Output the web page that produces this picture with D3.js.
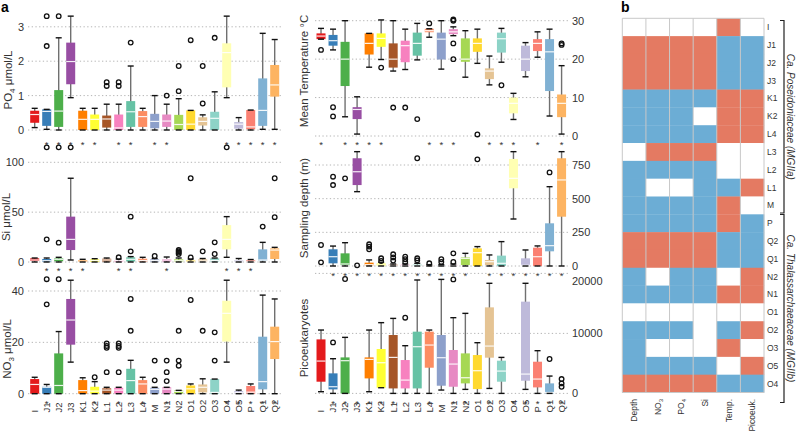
<!DOCTYPE html>
<html><head><meta charset="utf-8">
<script src="https://cdn.jsdelivr.net/npm/d3@7"></script>
<style>body{margin:0;background:#fff}text{font-family:"Liberation Sans",Arial,sans-serif}</style>
</head><body><svg id="c" width="796" height="431"></svg>
<script>
const categories = ["I","J1","J2","J3","K1","K2","L1","L2","L3","L4","M","N1","N2","O1","O2","O3","O4","O5","P","Q1","Q2"];
const colors = ["#e41a1c","#377eb8","#4daf4a","#984ea3","#ff7f00","#ffff33","#a65628","#f781bf",
  "#66c2a5","#fc8d62","#8da0cb","#e78ac3","#a6d854","#ffd92f","#e5c494",
  "#8dd3c7","#ffffb3","#bebada","#fb8072","#80b1d3","#fdb462"];

// box stats: [whiskerLow, q1, median, q3, whiskerHigh]
const po4Stats = [[0.07,0.21,0.45,0.56,0.63],[0.02,0.12,0.54,0.6,0.6],[0,0.09,0.55,1.16,2.68],[0.94,1.33,1.99,2.54,3.31],
  [0,0,0.31,0.56,0.63],[0,0,0.31,0.45,0.63],[0,0.07,0.32,0.42,0.75],[0,0,0.06,0.45,0.75],[0,0.09,0.53,0.84,1.86],
  [0,0.09,0.39,0.55,0.63],[0,0.05,0.25,0.47,1.0],[0,0.09,0.26,0.45,0.75],[0,0,0.16,0.44,0.91],[0,0,0.17,0.57,0.57],
  [0,0.13,0.25,0.37,0.44],[0,0,0.34,0.53,1.11],[0.94,1.24,2.25,2.52,3.31],[0,0.04,0.17,0.23,0.36],[0,0.02,0.09,0.58,0.58],
  [0.02,0.12,0.57,1.5,2.81],[0.02,0.97,1.31,1.89,2.63]];
const po4Outliers = [[],[2.44,3.31],[3.31],[],[],[],[1.28,1.39],[1.28,1.39],[2.54],[],[],[1.0],[1.13,1.86],[2.61],[0.77,1.86],[2.68],[],[],[],[],[]];
const po4Sig = ["J1","J2","J3","K1","K2","L2","L3","M","N1","O4","O5","P","Q1","Q2"];

const siStats = [[0,1,2,3.7,4],[0,0.3,1.3,3,4],[0,0.7,2.7,3.7,4.7],[2,12,22.7,45.5,84],[0,0.3,1,2,2.7],[0,0.3,1.5,2.7,3.3],
  [0,0.5,2,3.3,4],[0,0.5,1.5,2,3],[0,0.5,2.7,4.7,5.4],[0,0.5,1.5,3.3,4.7],[0,0.5,1.5,2.7,3.5],[0,0.5,2,3,5],[0,0.5,1.3,2.7,4],
  [0,0.3,1,2,3],[0,0.3,1,2.7,3.5],[0,0.5,1.5,3.7,4],[4.7,12.7,22.7,37,45.5],[0,0.3,1,2,3.5],[0,0.3,0.8,2,2.5],
  [0,1.3,2,12.7,19.7],[0,3,12,13.7,14.7]];
const siOutliers = [[],[22.7,115],[19.4,115],[115],[],[],[],[4.7],[10.7,45.5],[],[6],[],[8,9.4,10.7,12],[4.5,84],[10.7],[8,19.7],[115],[],[],[35.5],[45,84]];
const siSig = ["J1","J2","J3","K1","L2","L3","N1","O4","O5","P"];

const no3Stats = [[0,0,3.6,5.7,6.4],[0,0,2.5,2.7,3.6],[0,0,3.2,15.7,24.2],[12.3,19.1,28.7,36.9,44.2],[0,0,1.2,5.3,6.2],
  [0,0,1.0,2.7,4.7],[0,0,1.4,2.1,2.5],[0,0,1.4,2.3,2.5],[0,0,5.1,9.7,13],[0,0,3.8,5.3,6.4],[0,0,1.7,2.3,2.5],[0,0,1.8,2.5,2.5],
  [0,0,0.9,1.3,1.3],[0,0,1.9,3.2,3.8],[0,0.5,2.5,3.6,5.8],[0,0,0.5,5.7,5.7],[12.3,20.3,31.3,36.2,44.2],[0,0,0.4,1.0,1.4],
  [0,0,0.6,3.0,3.8],[0,1.7,4.7,22.2,38.4],[0,13.5,20.3,26.1,36.9]];
const no3Outliers = [[],[34.8,44.6],[44.6],[],[],[6.4],[8.4,17.9,18.6,19.6],[8.4,17.9,18.6,19.6],[24.5,36.9],[],[5.2,12.9],
  [4.9,8.4,12.9],[10.9,12.9,24.5],[36.5],[24.5],[12.9,23.9],[],[],[],[],[]];
const no3Sig = ["J1","K2","L2","L4","N1","O4","O5","P","Q1","Q2"];

const tempStats = [[25.2,25.2,26,26.7,28],[22.4,23.5,24.8,26.3,27.8],[5,13,20,24.5,30],[0.5,4.4,6.9,7.5,10.2],[17.9,21.2,24.1,26.7,26.7],
  [19.9,23.2,25.4,26.7,30.2],[16.9,17.8,20,24.1,30],[17.3,19.2,23.5,24.8,27.8],[19.8,20.9,24.1,26.9,29.3],[25.7,27,27.4,27.9,27.9],
  [17.4,19.9,25.2,26.9,30],[26.1,26.5,27.1,27.8,28.4],[15.3,19.3,20,25.4,27.4],[18.9,21.9,24.1,25.4,27.8],[13.3,14.8,16.9,17.6,20.8],
  [19.2,21.7,25.3,26.9,28],[4.3,5.9,8.5,10,11.1],[15.4,16.9,20,23.5,24.3],[20.5,22.1,24.1,25.2,27.1],[5.2,11.7,21.9,25.2,27.8],
  [0.5,4.9,8.5,10.8,18.3]];
const tempOutliers = [[22.4],[5.1,7.5],[],[],[],[17.8],[7.4],[7.4],[4.4],[29.3],[],[20,24.1,30,30.3],[],[0.4],[],[13.2],[],[],[],[],[23.7,24.1]];
const tempSig = ["I","J2","J3","K1","K2","L4","M","N1","O2","O3","O4","P","Q2"];

const depthStats = [null,[0,20,69,124,148],[0,7,15,94,173],[552,601,700,800,849],[0,5,10,25,45],[0,3,8,18,28],[0,2,5,10,15],
  [0,2,5,10,15],[0,2,5,10,20],[0,1,3,5,10],[0,1,2,5,10],[0,1,3,8,15],[0,7,57,64,94],[0,0,99,131,144],[0,7,32,45,82],
  [0,0,20,77,181],[349,577,651,795,849],[0,0,5,57,119],[0,0,69,136,149],[0,109,151,317,589],[0,366,639,800,849]];
const depthOutliers = [[27,156],[601,663],[651],[5],[124,144,161],[37,57],[40,64,87],[30,50,69],[42,57,800],[20],[30,50],[30,94],
  [],[792],[],[],[],[],[],[695],[]];
const depthSig = ["J1","J2","J3","K1","K2","L1","L2","L3","L4","M","N1","N2","O2","O3","O4","O5","P","Q1","Q2"];

const picoStats = [[280,1950,5390,9000,10560],[0,670,1110,3340,5780],[0,0,5450,6000,9340],null,[280,2500,5670,6000,10560],
  [945,945,5110,7400,11790],[0,830,6000,9730,12500],[0,830,2220,5560,7950],[0,830,7780,10290,18900],[0,4280,8060,10290,10560],
  [560,1280,5950,9730,19000],[0,1110,4890,7230,12620],[670,1670,2610,6670,13340],[0,720,3780,6390,8450],[830,5950,7890,14340,18350],
  [0,1950,3720,5450,6000],null,[670,2110,3220,15290,18350],[0,1000,2390,5280,7120],[0,0,150,1670,2890],null];
const picoOutliers = [[],[8500],[19070],[],[],[],[],[12620],[],[],[],[19000],[],[],[],[],[],[],[],[5730],[1110,1670,2390]];
const picoSig = ["J1","J2","J3","K1","K2","L1","L4","N1","N2","O2","O4","O5","P","Q1","Q2"];

const po4Ticks = [0,1,2,3], siTicks = [0,50,100], no3Ticks = [0,20,40];
const tempTicks = [0,10,20,30], depthTicks = [0,250,500,750], picoTicks = [0,10000,20000];

// heatmap (panel b)
const hmRows = ["I","J1","J2","J3","K1","K2","L4","L3","L2","L1","M","P","Q2","Q1","N2","N1","O1","O2","O3","O5","O4"];
const hmCols = ["Depth","NO3","PO4","Si","Temp.","Picoeuk."];
const hmValues = ["WWWWRW","RRRRBB","RRRRBB","RRRRBB","BBBBRR","BBBWRR","BBBBRR","WRRRWW","BBBBWW","BWWBBR","BBBBRW",
  "BBBBRB","RRRRBB","RRRRBB","BWBBWR","BBBBRR","WWWWWW","BBBWBR","BWWWRW","BBBBWR","RRRRBB"];

const svg = d3.select("#c");

const xLeft = d3.scaleBand().domain(categories).range([28.7, 280.7]);
const xRight = d3.scaleBand().domain(categories).range([315, 567.6]);

const panels = [
  {stats:po4Stats,out:po4Outliers,sig:po4Sig,x:xLeft,dom:[0,3],rng:[130,26.8],ticks:po4Ticks,sigY:143,side:"left",title:["PO","4"," μmol/L"],tx:8,ty:80},
  {stats:siStats,out:siOutliers,sig:siSig,x:xLeft,dom:[0,100],rng:[262,162.3],ticks:siTicks,sigY:269.3,side:"left",title:["Si μmol/L"],tx:6,ty:217},
  {stats:no3Stats,out:no3Outliers,sig:no3Sig,x:xLeft,dom:[0,40],rng:[393.7,291],ticks:no3Ticks,sigY:401.7,side:"left",title:["NO","3"," μmol/L"],tx:7,ty:349,cats:true},
  {stats:tempStats,out:tempOutliers,sig:tempSig,x:xRight,dom:[0,30],rng:[136,20.7],ticks:tempTicks,sigY:142.7,side:"right",title:["Mean Temperature °C"],tx:304,ty:71},
  {stats:depthStats,out:depthOutliers,sig:depthSig,x:xRight,dom:[0,750],rng:[266,165],ticks:depthTicks,sigY:274.3,side:"right",title:["Sampling depth (m)"],tx:304,ty:208},
  {stats:picoStats,out:picoOutliers,sig:picoSig,x:xRight,dom:[0,20000],rng:[393.4,273.4],ticks:picoTicks,sigY:401.7,side:"right",title:["Picoeukaryotes"],tx:304,ty:338,cats:true,topLabelDrop:true}
];

const BW = 9;
panels.forEach(p => {
  const y = d3.scaleLinear().domain(p.dom).range(p.rng);
  const g = svg.append("g");
  const [gx0, gx1] = p.side === "left" ? [28, 281] : [315, 570];
  g.selectAll("line.grid").data(p.ticks).join("line")
    .attr("x1", gx0).attr("x2", gx1).attr("y1", d => y(d)).attr("y2", d => y(d))
    .attr("stroke", "#b5b5b5").attr("stroke-width", 1).attr("stroke-dasharray", "1.3,2.4");
  const axis = (p.side === "left" ? d3.axisLeft(y) : d3.axisRight(y))
    .tickValues(p.ticks).tickSize(0).tickPadding(0).tickFormat(d => String(d));
  const ag = g.append("g").attr("transform", `translate(${p.side === "left" ? 24 : 572},0)`).call(axis);
  ag.select(".domain").remove();
  ag.selectAll("text").attr("font-size", 11).attr("fill", "#333").attr("font-family", "Liberation Sans, Arial, sans-serif");
  if (p.topLabelDrop) {
    const top = p.ticks[p.ticks.length - 1];
    ag.selectAll(".tick").filter(d => d === top).select("text").attr("dy", "1.05em");
  }
  const t = g.append("text").attr("transform", `translate(${p.tx},${p.ty}) rotate(-90)`)
    .attr("text-anchor", "middle").attr("font-size", 11.5).attr("fill", "#333").attr("dy", "0.35em");
  if (p.title.length === 1) t.text(p.title[0]);
  else {
    t.append("tspan").text(p.title[0]);
    t.append("tspan").text(p.title[1]).attr("font-size", 8).attr("dy", 3);
    t.append("tspan").text(p.title[2]).attr("dy", -3);
  }
  const cx = c => p.x(c) + p.x.bandwidth() / 2;
  const rows = categories.map((c, i) => ({c, i, s: p.stats[i], o: p.out[i]}));
  const bx = rows.filter(d => d.s);
  g.selectAll("line.wh").data(bx).join("line")
    .attr("x1", d => cx(d.c)).attr("x2", d => cx(d.c)).attr("y1", d => y(d.s[0])).attr("y2", d => y(d.s[4]))
    .attr("stroke", "#707070").attr("stroke-width", 1.4);
  g.selectAll("rect.bx").data(bx).join("rect")
    .attr("x", d => cx(d.c) - BW / 2).attr("width", BW)
    .attr("y", d => y(d.s[3])).attr("height", d => Math.max(0, y(d.s[1]) - y(d.s[3])))
    .attr("fill", d => colors[d.i]);
  g.selectAll("line.md").data(bx).join("line")
    .attr("x1", d => cx(d.c) - BW / 2).attr("x2", d => cx(d.c) + BW / 2)
    .attr("y1", d => y(d.s[2])).attr("y2", d => y(d.s[2]))
    .attr("stroke", "#fff").attr("stroke-width", 1.2).attr("opacity", 0.9);
  const caps = bx.flatMap(d => [{c: d.c, v: d.s[0]}, {c: d.c, v: d.s[4]}]);
  g.selectAll("line.cap").data(caps).join("line")
    .attr("x1", d => cx(d.c) - 3).attr("x2", d => cx(d.c) + 3)
    .attr("y1", d => y(d.v)).attr("y2", d => y(d.v))
    .attr("stroke", "#111").attr("stroke-width", 1.4);
  const outs = rows.flatMap(d => d.o.map(v => ({c: d.c, v})));
  g.selectAll("circle.out").data(outs).join("circle")
    .attr("cx", d => cx(d.c)).attr("cy", d => y(d.v)).attr("r", 2.3)
    .attr("fill", "none").attr("stroke", "#111").attr("stroke-width", 1.3);
  g.selectAll("text.sig").data(p.sig).join("text")
    .attr("x", d => cx(d)).attr("y", p.sigY + 5).attr("text-anchor", "middle")
    .attr("font-size", 9.5).attr("fill", "#333").text("*");
  if (p.cats) {
    g.selectAll("text.cat").data(categories).join("text")
      .attr("transform", d => `translate(${cx(d)},412.5) rotate(-90)`)
      .attr("text-anchor", "start").attr("dy", "0.35em")
      .attr("font-size", 9.5).attr("fill", "#333").text(d => d);
  }
});

svg.append("text").attr("x", 1).attr("y", 12).attr("font-size", 14).attr("font-weight", "bold").text("a");
svg.append("text").attr("x", 621).attr("y", 12).attr("font-size", 14).attr("font-weight", "bold").text("b");

const hx = d3.scaleBand().domain(hmCols).range([622.3, 764]);
const hy = d3.scaleBand().domain(hmRows).range([18.3, 392.5]);
const hmColor = {R: "#e47a62", B: "#6cadd5", W: "#ffffff"};
const cells = hmRows.flatMap((r, i) => hmCols.map((c, j) => ({r, c, v: hmValues[i][j]})));
const hg = svg.append("g");
hg.selectAll("rect").data(cells).join("rect")
  .attr("x", d => hx(d.c)).attr("y", d => hy(d.r))
  .attr("width", hx.bandwidth() + 0.3).attr("height", hy.bandwidth() + 0.3)
  .attr("fill", d => hmColor[d.v]);
hg.selectAll("line.v").data(d3.range(hmCols.length + 1)).join("line")
  .attr("x1", d => 622.3 + d * hx.bandwidth()).attr("x2", d => 622.3 + d * hx.bandwidth())
  .attr("y1", 18.3).attr("y2", 392.5).attr("stroke", "#c8c8c8").attr("stroke-width", 1);
hg.selectAll("line.h").data([18.3, 392.5]).join("line")
  .attr("x1", 622.3).attr("x2", 764).attr("y1", d => d).attr("y2", d => d)
  .attr("stroke", "#c8c8c8").attr("stroke-width", 1);
hg.selectAll("text.row").data(hmRows).join("text")
  .attr("x", 767).attr("y", d => hy(d) + hy.bandwidth() / 2).attr("dy", "0.35em")
  .attr("font-size", 8.5).attr("fill", "#333").text(d => d);
const colLab = hg.selectAll("text.col").data(hmCols).join("text")
  .attr("transform", d => `translate(${hx(d) + hx.bandwidth() / 2},399) rotate(-90)`)
  .attr("text-anchor", "end").attr("dy", "0.35em").attr("font-size", 8.5).attr("fill", "#333");
colLab.each(function(d) {
  const el = d3.select(this);
  if (d === "NO3" || d === "PO4") {
    el.append("tspan").text(d.slice(0, 2));
    el.append("tspan").text(d.slice(2)).attr("font-size", 6).attr("dy", 2);
  } else el.text(d);
});

const brackets = [{y0: 20.5, y1: 213, label: "Ca. Poseidoniaceae (MGIIa)"}, {y0: 214.5, y1: 402.5, label: "Ca. Thalassarchaeaceae (MGIIb)"}];
brackets.forEach(b => {
  hg.append("path").attr("d", `M780,${b.y0}H784V${b.y1}H780`).attr("fill", "none").attr("stroke", "#222").attr("stroke-width", 1.2);
  hg.append("text").attr("transform", `translate(790,${(b.y0 + b.y1) / 2}) rotate(90)`)
    .attr("text-anchor", "middle").attr("dy", "0.35em").attr("font-size", 10).attr("font-style", "italic")
    .attr("fill", "#333").text(b.label);
});
</script></body></html>
